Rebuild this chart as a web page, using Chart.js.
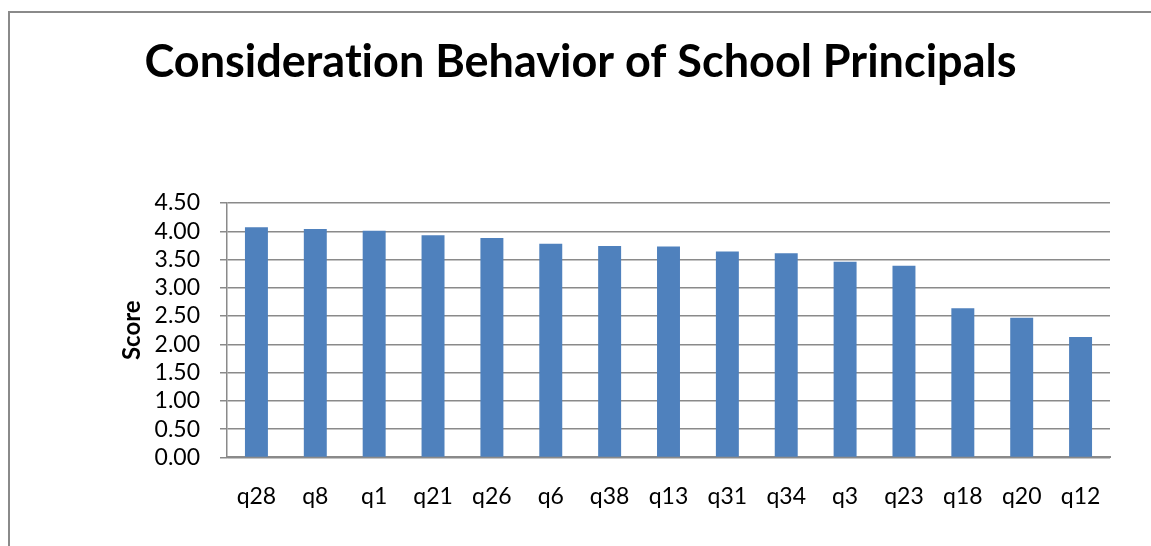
<!DOCTYPE html>
<html>
<head>
<meta charset="utf-8">
<script src="https://cdn.jsdelivr.net/npm/chart.js@4"></script>
<style>
    body { margin: 0; background: #fff; overflow: hidden; }
    .frame { position: absolute; left: 8px; top: 11px; border-left: 2px solid #8a8a8a; border-top: 2px solid #8a8a8a; }
    canvas { display: block; }
</style>
</head>
<body>
<div class="frame"><canvas id="scoreChart" width="1141" height="533"></canvas></div>
<script>
const questions = ["q28", "q8", "q1", "q21", "q26", "q6", "q38", "q13", "q31", "q34", "q3", "q23", "q18", "q20", "q12"];
const scores = [4.07, 4.04, 4.01, 3.93, 3.88, 3.78, 3.74, 3.73, 3.64, 3.61, 3.46, 3.39, 2.64, 2.47, 2.13];
const yMin = 0, yMax = 4.5, yStep = 0.5;

const FONT = "Lato, 'Open Sans', sans-serif";
const GRID = '#8a8a8a';

// no "ti" ligature in the title
const noLigatures = { id: 'noLigatures', beforeDraw: chart => { chart.ctx.textRendering = 'optimizeSpeed'; } };

function renderChart() {
    const ctx = document.getElementById('scoreChart').getContext('2d');
    new Chart(ctx, {
        type: 'bar',
        data: {
            labels: questions,
            datasets: [{ data: scores, backgroundColor: '#4f81bd', barPercentage: 0.39, categoryPercentage: 1 }]
        },
        options: {
            responsive: false, animation: false,
            layout: { padding: { left: 0, right: 0, top: 0, bottom: 11 } },
            plugins: {
                legend: { display: false },
                tooltip: { enabled: false },
                title: {
                    display: true, text: 'Consideration Behavior of School Principals', color: '#000',
                    font: { family: FONT, size: 45, weight: 'bold' }, padding: { top: 22, bottom: 114 }
                }
            },
            scales: {
                x: {
                    grid: { display: false, drawTicks: false },
                    border: { color: GRID, width: 2 },
                    ticks: { color: '#000', padding: 25, font: { family: FONT, size: 23 } }
                },
                y: {
                    min: yMin, max: yMax,
                    afterFit: s => { s.width = 217; },
                    grid: { color: GRID, lineWidth: 1.5, tickLength: 7 },
                    border: { color: GRID, width: 1.5 },
                    ticks: { stepSize: yStep, autoSkip: false, color: '#000', padding: 20, font: { family: FONT, size: 23 }, callback: v => v.toFixed(2) },
                    title: { display: true, text: 'Score', color: '#000', font: { family: FONT, size: 24, weight: 'bold' }, padding: { top: 108, bottom: 0 } }
                },
                yRight: {
                    position: 'right',
                    afterFit: s => { s.width = 41; },
                    grid: { display: false },
                    border: { display: false },
                    ticks: { display: false }
                }
            }
        },
        plugins: [noLigatures]
    });
}

renderChart();
</script>
</body>
</html>
